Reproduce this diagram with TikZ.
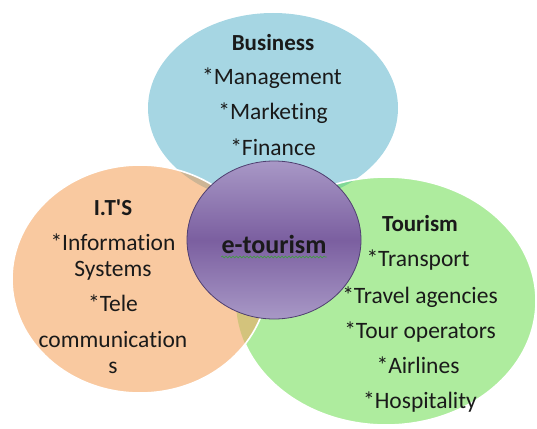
\documentclass[tikz,border=0pt]{standalone}
\usepackage{fontspec}
\setmainfont{Carlito}[RawFeature=-liga]
\usetikzlibrary{decorations.pathmorphing,shapes.geometric}
\definecolor{cblue}{HTML}{A6D6E3}
\definecolor{corange}{HTML}{F9C9A0}
\definecolor{cgreen}{HTML}{AEEC9E}
\definecolor{cbg}{HTML}{80D896}
\definecolor{cbo}{HTML}{CDB595}
\definecolor{cog}{HTML}{D3C37C}
\definecolor{ptop}{HTML}{A898C6}
\definecolor{pmid}{HTML}{7B5FA0}
\definecolor{pedge}{HTML}{4F3F70}
\definecolor{txt}{HTML}{1A1A1A}
\definecolor{squig}{HTML}{3F9F3F}
\tikzset{
  lbl/.style={font=\fontsize{23.5}{26}\selectfont, text=txt, inner sep=0pt, anchor=base},
  hdr/.style={font=\fontsize{23}{26}\selectfont\bfseries, text=txt, inner sep=0pt, anchor=base},
  wline/.style={draw=white, line width=1.6pt}
}
\begin{document}
\begin{tikzpicture}[x=1pt,y=-1pt]
\useasboundingbox (0,0) rectangle (537,428);
\def\blueE{(273,108) ellipse [x radius=125, y radius=95]}
\def\orangeE{(140,279) ellipse [x radius=128, y radius=114]}
\def\greenE{(386,301) ellipse [x radius=150, y radius=124]}
% blue
\fill[cblue] \blueE;
% green
\fill[cgreen] \greenE;
\begin{scope}\clip \blueE; \fill[cbg] \greenE; \end{scope}
\draw[wline] \greenE;
% orange
\fill[corange] \orangeE;
\begin{scope}\clip \blueE; \fill[cbo] \orangeE; \end{scope}
\begin{scope}\clip \greenE; \fill[cog] \orangeE; \end{scope}
\draw[wline] \orangeE;
% centre
\node[ellipse, minimum width=174pt, minimum height=158pt, inner sep=0pt,
  draw=pedge, line width=0.8pt, top color=ptop, bottom color=ptop, middle color=pmid] (c) at (274,240) {};
\node[hdr, font=\fontsize{26}{28}\selectfont\bfseries] (et) at (274,253) {e-tourism};
\coordinate (sqa) at ([yshift=-4pt]et.base west);
\coordinate (sqb) at ([yshift=-4pt]et.base east);
\draw[squig, line width=0.6pt, decorate, decoration={snake, amplitude=1pt, segment length=3.5pt}]
  (sqa) -- (sqb);
% Business
\node[hdr] (b0) at (273,50) {Business};
\node[lbl] (b1) at (272,84) {*Management};
\node[lbl] (b2) at (273,119) {*Marketing};
\node[lbl] (b3) at (273,155) {*Finance};
% IT
\node[hdr] (i0) at (113,215) {I.T\textquotesingle S};
\node[lbl] (i1) at (113,250) {*Information};
\node[lbl] (i2) at (113,276) {Systems};
\node[lbl] (i3) at (113,311) {*Tele};
\node[lbl] (i4) at (113,347) {communication};
\node[lbl] (i5) at (113,373) {s};
% Tourism
\node[hdr] (t0) at (420,231) {Tourism};
\node[lbl] (t1) at (418,266) {*Transport};
\node[lbl] (t2) at (420,303) {*Travel agencies};
\node[lbl] (t3) at (420,338) {*Tour operators};
\node[lbl] (t4) at (418,373) {*Airlines};
\node[lbl] (t5) at (420,408) {*Hospitality};
\end{tikzpicture}
\end{document}
